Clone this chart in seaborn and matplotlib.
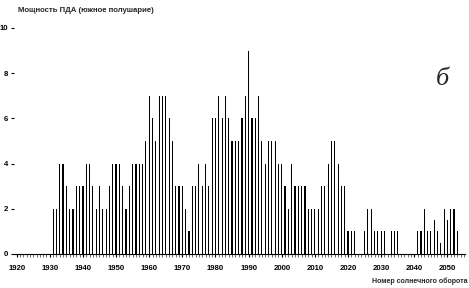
import matplotlib
matplotlib.use("Agg")
import matplotlib.pyplot as plt
from matplotlib.ticker import MultipleLocator
import seaborn as sns
import pandas as pd
import numpy as np

# Solar rotation numbers and SPD power (southern hemisphere)
rotations = list(range(1931, 2054))
power = [2, 2, 4, 4, 3, 2, 2, 3, 3, 3, 4, 4, 3, 2, 3, 2, 2, 3, 4, 4,
         4, 3, 2, 3, 4, 4, 4, 4, 5, 7, 6, 5, 7, 7, 7, 6, 5, 3, 3,
         3, 2, 1, 3, 3, 4, 3, 4, 3, 6, 6, 7, 6, 7, 6, 5, 5, 5, 6, 7,
         9, 6, 6, 7, 5, 4, 5, 5, 5, 4, 4, 3, 2, 4, 3, 3, 3, 3, 2,
         2, 2, 2, 3, 3, 4, 5, 5, 4, 3, 3, 1, 1, 1,
         0, 0,
         1, 2, 2, 1, 1, 1, 1,
         0,
         1, 1, 1,
         0, 0, 0, 0, 0,
         1, 1, 2, 1, 1, 1.5, 1, 0.5, 2, 1.5, 2, 2, 1]
xticks = [1920, 1930, 1940, 1950, 1960, 1970, 1980, 1990, 2000, 2010, 2020, 2030, 2040, 2050]
yticks = [0, 2, 4, 6, 8, 10]

title = "Мощность ПДА (южное полушарие)"
xlabel = "Номер солнечного оборота"
panel = "б"

df = pd.DataFrame({"rot": rotations, "power": power})

sns.set_style("white")
plt.rcParams["font.family"] = ["Liberation Sans", "DejaVu Sans"]

W, H = 469, 288
fig = plt.figure(figsize=(W / 100, H / 100), dpi=100)
ax = fig.add_axes([14 / W, (H - 254) / H, (465 - 14) / W, (254 - 28) / H])

sns.barplot(data=df, x="rot", y="power", native_scale=True, width=0.35,
            color="black", saturation=1, errorbar=None, linewidth=0, ax=ax)

ax.set_xlim(1919.2, 2055.3)
ax.set_ylim(0, 10)
ax.set_xticks(xticks)
ax.set_xticklabels([str(t) for t in xticks], fontsize=5.6, fontweight="bold")
ax.xaxis.set_minor_locator(MultipleLocator(1))
ax.set_yticks(yticks)
ax.set_yticklabels([str(t) for t in yticks], fontsize=5.6, fontweight="bold")
ax.set_xlabel("")
ax.set_ylabel("")

for s in ["top", "right", "left"]:
    ax.spines[s].set_visible(False)
ax.spines["bottom"].set_linewidth(0.8)
ax.spines["bottom"].set_color("black")

ax.tick_params(axis="x", which="major", direction="out", length=2.5, width=0.8,
               pad=5.5, colors="black", bottom=True)
ax.tick_params(axis="x", which="minor", direction="out", length=2, width=0.4,
               colors="black", bottom=True)
ax.tick_params(axis="y", which="major", direction="out", length=2.5, width=0.8,
               pad=2, colors="black", left=True)

fig.text(18 / W, 1 - 10 / H, title, fontsize=5.6, fontweight="bold",
         ha="left", va="center")
fig.text(467 / W, 1 - 281 / H, xlabel, fontsize=5.0, fontweight="bold",
         ha="right", va="center")
fig.text(442 / W, 1 - 79 / H, panel, fontsize=19, style="italic",
         family=["Liberation Serif", "DejaVu Serif"], ha="center", va="center")

fig.savefig("out.png", dpi=100)
